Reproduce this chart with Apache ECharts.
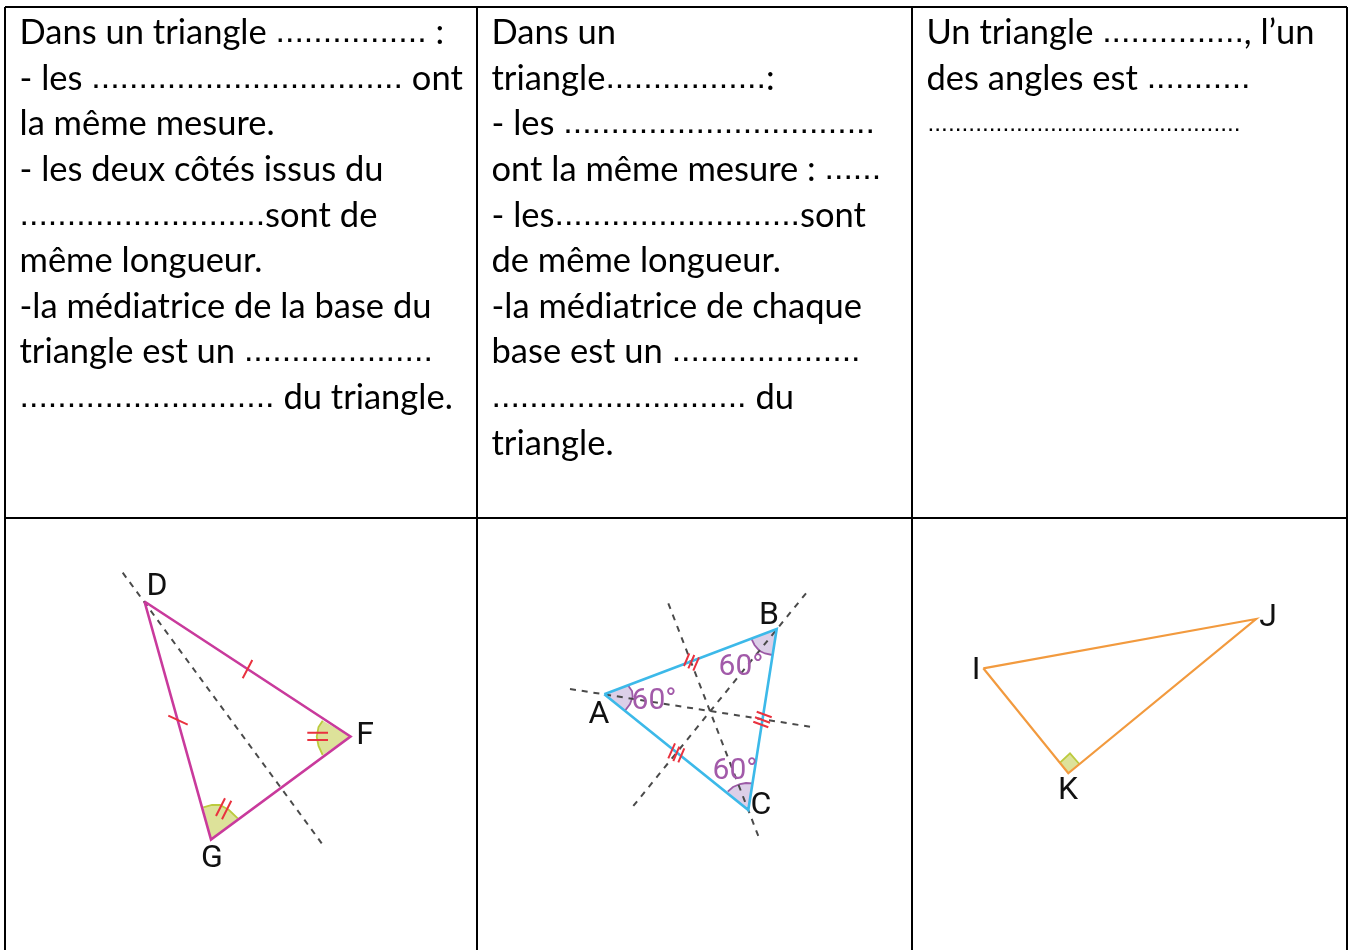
<!DOCTYPE html>
<html>
<head>
<meta charset="utf-8">
<style>html,body{margin:0;padding:0;background:#fff}#c{width:1350px;height:950px}</style>
<script src="https://cdn.jsdelivr.net/npm/echarts@6/dist/echarts.min.js"></script>
</head>
<body>
<div id="c"></div>
<script>
// Table rules
const tableRules = [
  [[5,7],[1347,7]], [[5,518],[1347,518]],
  [[5,7],[5,950]], [[477,7],[477,950]], [[912,7],[912,950]], [[1347,7],[1347,950]]
];
// Text rows: [x, y, text]
const col1Lines = [
  [19,33,'Dans un triangle ................ :'],
  [19,79,'- les ................................. ont'],
  [19,124,'la même mesure.'],
  [19,170,'- les deux côtés issus du'],
  [19,216,'..........................sont de'],
  [19,261,'même longueur.'],
  [19,307,'-la médiatrice de la base du'],
  [19,352,'triangle est un ....................'],
  [19,398,'........................... du triangle.']
];
const col2Lines = [
  [491,33,'Dans un'],
  [491,79,'triangle.................:'],
  [491,124,'- les .................................'],
  [491,170,'ont la même mesure : ......'],
  [491,216,'- les..........................sont'],
  [491,261,'de même longueur.'],
  [491,307,'-la médiatrice de chaque'],
  [491,352,'base est un ....................'],
  [491,398,'........................... du'],
  [491,444,'triangle.']
];
const col3Lines = [
  [926,33,'Un triangle ..............., l’un'],
  [926,79,'des angles est ...........']
];
const col3SmallDots = [[927,124,'..............................................']];

// Triangles
const triDFG = [[144.5,601.5],[350.5,736.5],[211,839.5],[144.5,601.5]];
const triABC = [[604.3,694.3],[776.7,629],[748.3,810],[604.3,694.3]];
const triIJK = [[983.3,668.3],[1256,619],[1068.3,773.3],[983.3,668.3]];
// Dashed symmetry axes
const axisDFG = [[122.7,572.7],[321.7,843.3]];
const axisA = [[570,689],[810,726.7]];
const axisB = [[806,593.3],[633.3,806]];
const axisC = [[668.3,603.3],[758.3,836]];
// Red coding ticks
const ticks = [
  [[242.7,678.3],[252.3,660]], [[168.3,715.7],[187.7,724.7]],
  [[307.3,732.7],[328,732.7]], [[307.3,740],[328,740]],
  [[216,816],[225,798.3]], [[222,819.3],[231.3,800.7]],
  [[684,666],[689.3,653.3]], [[688.3,668.3],[694.3,655]], [[693.3,670.7],[699,657.3]],
  [[756.7,711.7],[771.7,717.3]], [[755,717.3],[770,722.7]], [[753.3,721.7],[768.3,727.3]],
  [[675,743.3],[668.3,758.3]], [[679.3,746.7],[673.3,761]], [[684.3,748.3],[678.3,762.3]]
];
// Angle wedges: outline points
const greenWedges = [
  [[350.5,736.5],[322.7,720.7],[318.5,727],[316.7,736.7],[318.5,746],[322.7,755]],
  [[211,839.5],[203.3,807.3],[212,805],[220,805],[229,810],[237.7,818.3]],
  [[1068.3,773.3],[1060,762.7],[1070,753.3],[1079.3,764]]
];
const purpleWedges = [
  [[604.3,694.3],[628.3,685.7],[632,691],[632.7,696.7],[630,704],[625,710.7]],
  [[776.7,629],[751.7,639.3],[754.5,645],[759.3,650.7],[765,653.5],[772.3,655]],
  [[748.3,810],[727.7,791.7],[733,787],[740,784],[746,783],[752.3,783.3]]
];
// Point names and angle labels
const pointLabels = [
  [157,587,'D'],[212,859,'G'],[365,736,'F'],
  [599,715,'A'],[769,616,'B'],[761,806,'C'],
  [976,671,'I'],[1268,618,'J'],[1068,791,'K']
];
const angleLabels = [[654,701,'60°'],[741,667,'60°'],[735,771,'60°']];

function flat(segs){
  const out=[];
  segs.forEach((s,i)=>{ if(i) out.push(['-','-']); s.forEach(p=>out.push(p)); });
  return out;
}
function lineSeries(data,color,width,dash,z){
  return {type:'line',data,symbol:'none',silent:true,animation:false,clip:false,z:z||3,
    connectNulls:false,lineStyle:{color,width,type:dash||'solid',join:'miter'}};
}
function richText(s){
  return s.replace(/\.{2,}/g,m=>'{d|'+m+'}');
}
const textFont='Lato';
function textSeries(rows,fmt,label){
  return {type:'scatter',symbol:'circle',symbolSize:1,silent:true,animation:false,z:6,clip:false,
    itemStyle:{color:'rgba(255,255,255,0)',opacity:1},
    data:rows.map(r=>({value:[r[0],r[1]],name:r[2]})),
    label:Object.assign({show:true,formatter:fmt},label)};
}
function wedgeSeries(list,fill,stroke){
  return {type:'custom',silent:true,animation:false,z:2,clip:false,
    data:list.map((w,i)=>[w[0][0],w[0][1],i]),
    renderItem(params,api){
      const pts=list[api.value(2)].map(p=>api.coord(p));
      return {type:'group',children:[
        {type:'polygon',shape:{points:pts},style:{fill:fill,stroke:'none'}},
        {type:'polyline',shape:{points:pts.slice(1)},style:{fill:'none',stroke:stroke,lineWidth:1.8}}
      ]};
    }};
}
const bodyLabel={position:'right',distance:0,color:'#000',fontFamily:textFont,fontSize:34.5,
  verticalAlign:'middle',align:'left',
  rich:{d:{fontFamily:'Liberation Sans',fontSize:34,color:'#000'}}};
const chart=echarts.init(document.getElementById('c'),null,{renderer:'canvas'});
chart.setOption({
  animation:false,
  backgroundColor:'#fff',
  grid:{left:0,right:0,top:0,bottom:0},
  xAxis:{type:'value',min:0,max:1350,show:false},
  yAxis:{type:'value',min:0,max:950,inverse:true,show:false},
  series:[
    lineSeries(flat(tableRules),'#000',2,'solid',1),
    wedgeSeries(greenWedges,'#dde29a','#bccb3e'),
    wedgeSeries(purpleWedges,'#dccfe8','#9c5aa6'),
    lineSeries(axisDFG,'#4a4a4a',2,[6,5.79],3),
    lineSeries(axisA,'#4a4a4a',2,[6,5.85],3),
    lineSeries(axisB,'#4a4a4a',2,[6,6.18],3),
    lineSeries(axisC,'#4a4a4a',2,[6,6.17],3),
    lineSeries(triDFG,'#c93a9c',2.6,'solid',4),
    lineSeries(triABC,'#3cb9e9',2.6,'solid',4),
    lineSeries(triIJK,'#f29a3e',2.2,'solid',4),
    lineSeries(flat(ticks),'#e9323f',2,'solid',5),
    textSeries(col1Lines.concat(col2Lines,col3Lines),p=>richText(p.name),bodyLabel),
    textSeries(col3SmallDots,p=>p.name,{position:'right',distance:0,color:'#000',fontFamily:'Liberation Sans',fontSize:24.5,verticalAlign:'middle'}),
    textSeries(pointLabels,p=>p.name,{position:'inside',color:'#111',fontFamily:'Roboto',fontSize:32,align:'center',verticalAlign:'middle'}),
    textSeries(angleLabels,p=>p.name,{position:'inside',color:'#a25aa9',fontFamily:'Roboto',fontSize:30,align:'center',verticalAlign:'middle'})
  ]
});
</script>
</body>
</html>
